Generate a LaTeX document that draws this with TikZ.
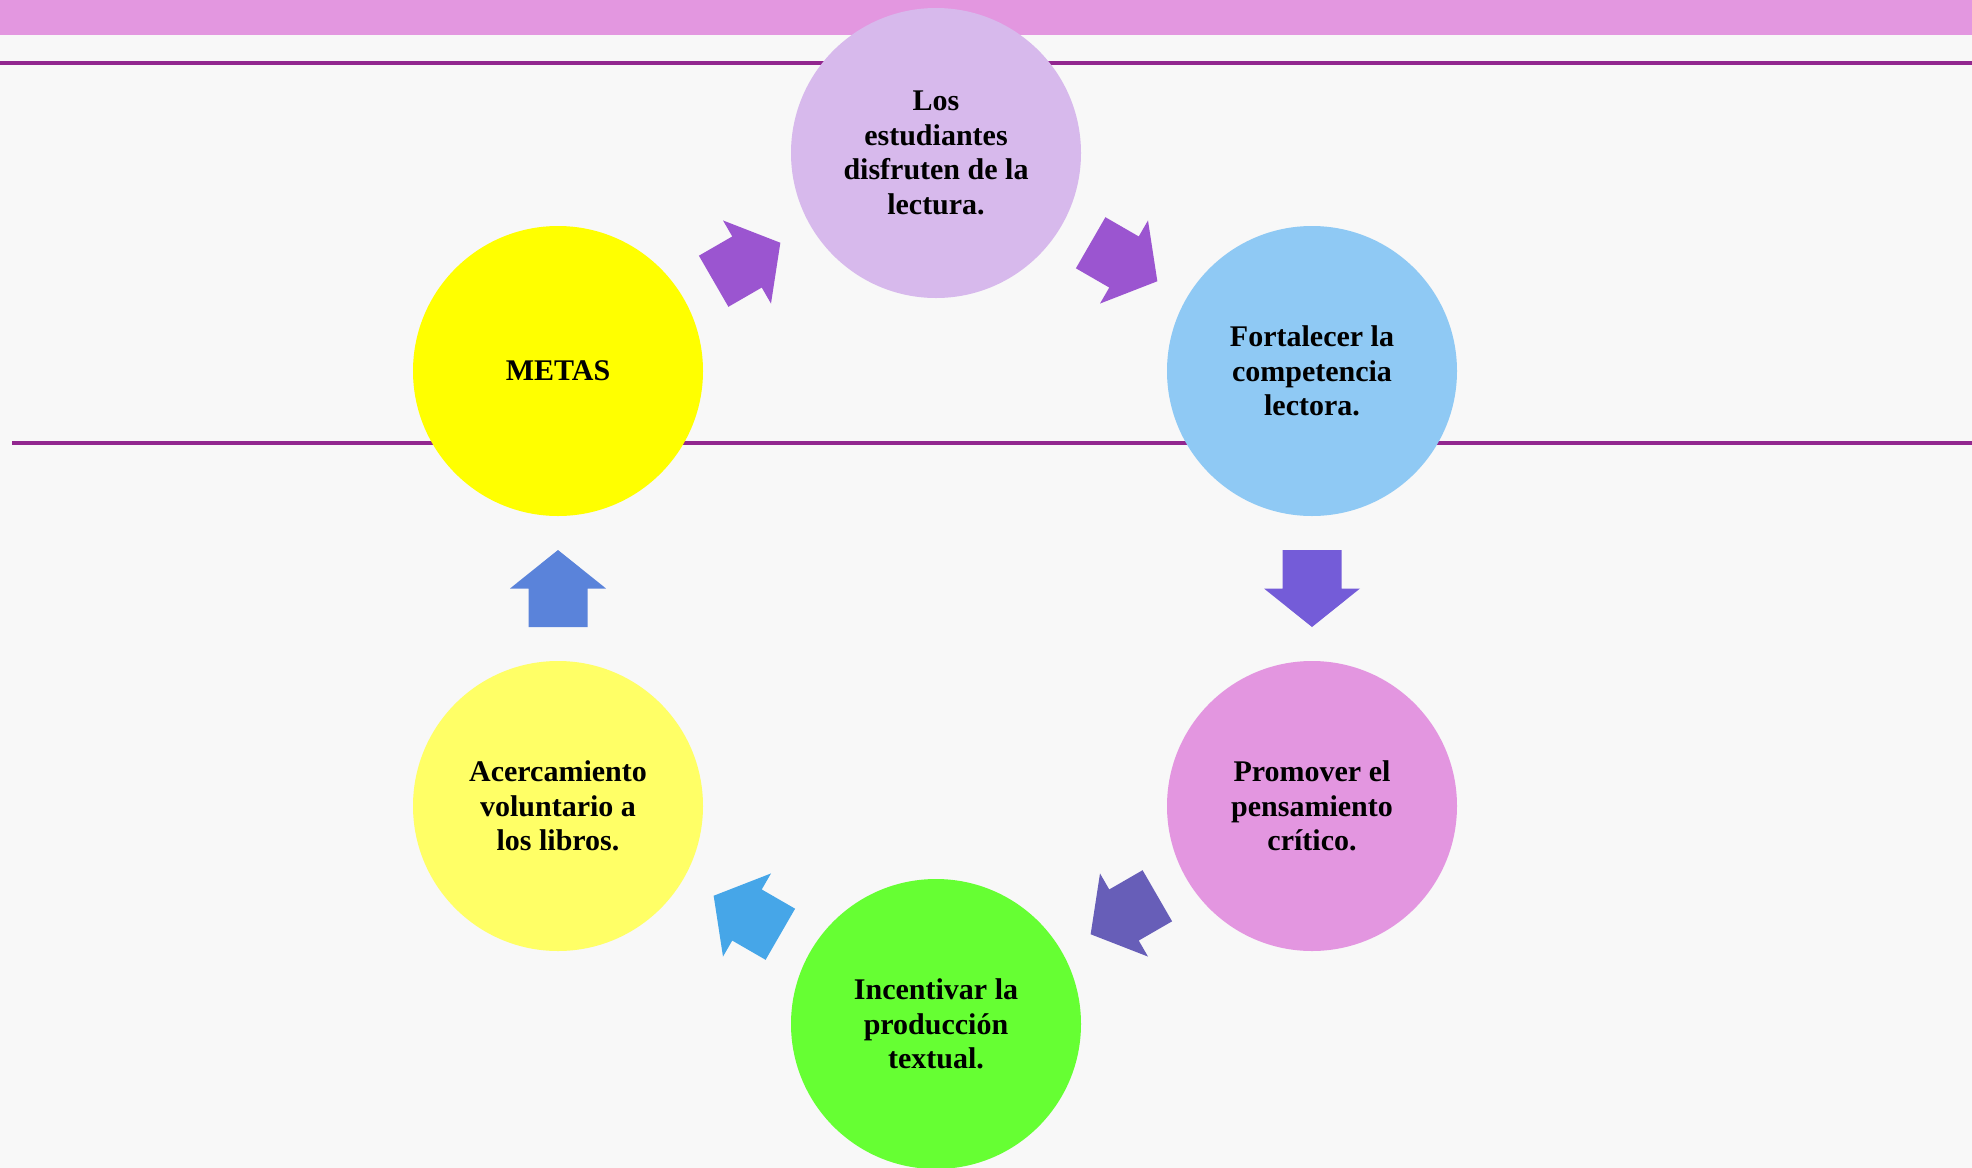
\documentclass[tikz,border=0pt]{standalone}
\usepackage{fontspec}
\setmainfont{Liberation Serif}
\usetikzlibrary{calc}
\definecolor{bgc}{HTML}{F8F8F8}
\definecolor{bandc}{HTML}{E397E0}
\definecolor{linec}{HTML}{92278F}
\definecolor{cLos}{HTML}{D7B9EC}
\definecolor{cMetas}{HTML}{FFFF00}
\definecolor{cFort}{HTML}{8FC9F4}
\definecolor{cProm}{HTML}{E396E0}
\definecolor{cInc}{HTML}{66FF33}
\definecolor{cAcer}{HTML}{FFFF66}
\definecolor{aOne}{HTML}{9B55D0}
\definecolor{aThree}{HTML}{745CD8}
\definecolor{aFour}{HTML}{675EB8}
\definecolor{aFive}{HTML}{46A6E8}
\definecolor{aSix}{HTML}{5A83DA}
\tikzset{
  goal/.style={circle, minimum size=145pt, inner sep=0pt, align=center,
    font=\fontsize{15}{17.25}\selectfont\bfseries, text=black},
  sepline/.style={draw=linec, line width=1.65pt},
  blockarrow/.pic={
    \fill[pic actions] (-38.5,-29.5) -- (0,-29.5) -- (0,-48) -- (38.5,0)
      -- (0,48) -- (0,29.5) -- (-38.5,29.5) -- cycle;
  }
}
\begin{document}
\begin{tikzpicture}[x=0.5pt, y=-0.5pt]
\useasboundingbox (0,0) rectangle (1972,1168);
\fill[bgc] (0,0) rectangle (1972,1168);
\fill[bandc] (0,0) rectangle (1972,34.5);
\coordinate (l1a) at (0,63);
\coordinate (l1b) at (1972,63);
\coordinate (l2a) at (12,443);
\coordinate (l2b) at (1972,443);
\draw[sepline] (l1a) -- (l1b);
\draw[sepline] (l2a) -- (l2b);

\node[goal, fill=cLos]   (los)  at (936,153)  {Los\\estudiantes\\disfruten de la\\lectura.};
\node[goal, fill=cMetas] (metas) at (558,371) {METAS};
\node[goal, fill=cFort]  (fort) at (1312,371) {Fortalecer la\\competencia\\lectora.};
\node[goal, fill=cProm]  (prom) at (1312,806) {Promover el\\pensamiento\\crítico.};
\node[goal, fill=cInc]   (inc)  at (936,1024) {Incentivar la\\producción\\textual.};
\node[goal, fill=cAcer]  (acer) at (558,806)  {Acercamiento\\voluntario a\\los libros.};

\pic[fill=aOne, rotate=30]    at ($(metas)!0.5!(los)$)  {blockarrow};
\pic[fill=aOne, rotate=-30]   at ($(los)!0.5!(fort)$)   {blockarrow};
\pic[fill=aThree, rotate=-90] at ($(fort)!0.5!(prom)$)  {blockarrow};
\pic[fill=aFour, rotate=210]  at ($(prom)!0.5!(inc)$)   {blockarrow};
\pic[fill=aFive, rotate=150]  at ($(inc)!0.5!(acer)$)   {blockarrow};
\pic[fill=aSix, rotate=90]    at ($(acer)!0.5!(metas)$) {blockarrow};
\end{tikzpicture}
\end{document}
